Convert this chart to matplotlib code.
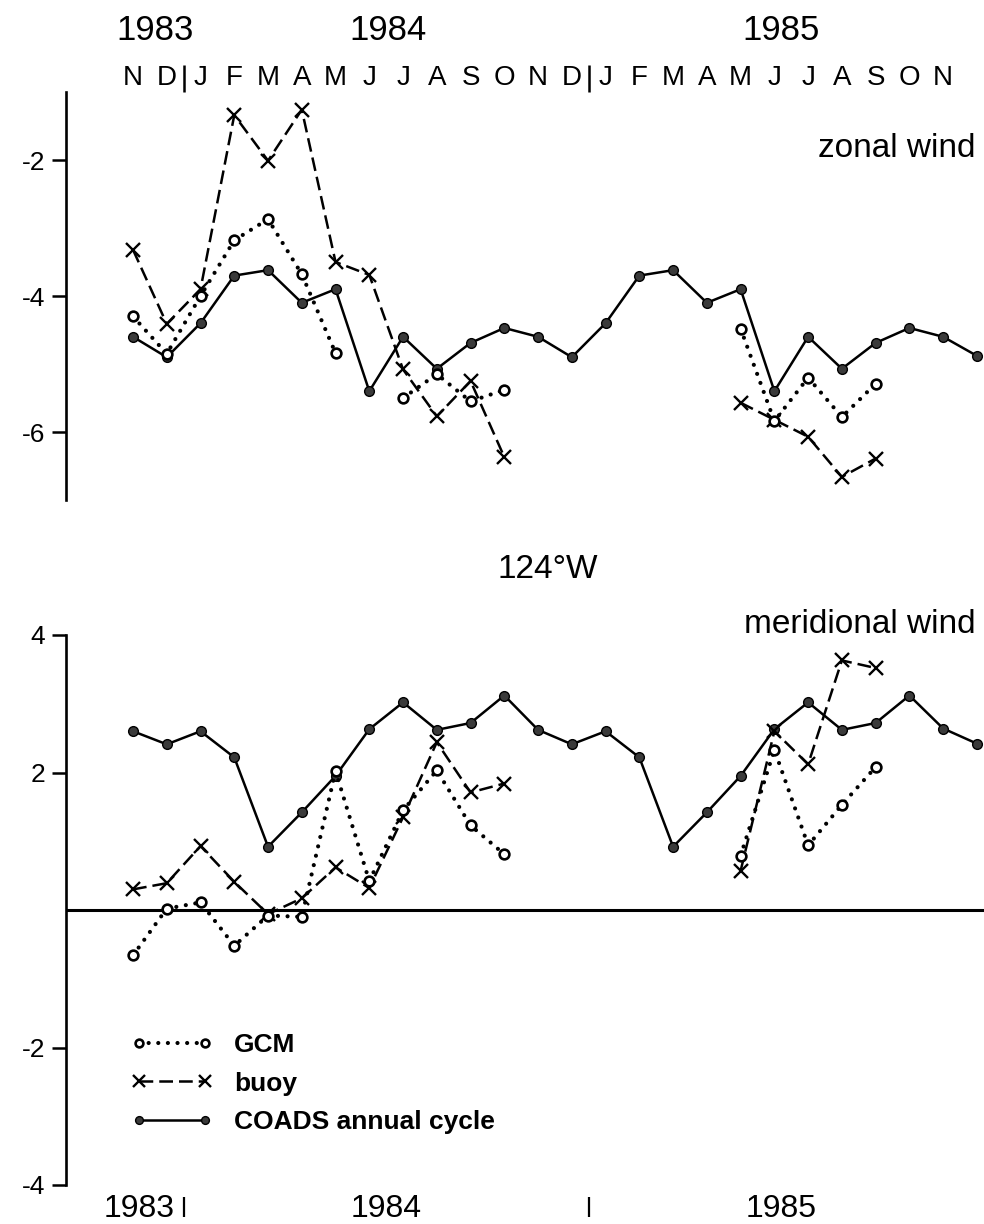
import numpy as np
import matplotlib
matplotlib.use("Agg")
import matplotlib.pyplot as plt
import matplotlib.transforms as mtransforms

plt.rcParams['font.family'] = ['Liberation Sans', 'DejaVu Sans']

nan = np.nan

# month index 0 = Nov 1983 ... 25 = Dec 1985
month_letters = ['N', 'D', 'J', 'F', 'M', 'A', 'M', 'J', 'J', 'A', 'S', 'O',
                 'N', 'D', 'J', 'F', 'M', 'A', 'M', 'J', 'J', 'A', 'S', 'O', 'N']
top_years = ['1983', '1984', '1985']
top_year_pos = [0.65, 7.55, 19.2]
bottom_year_pos = [0.18, 7.5, 19.2]
year_breaks = [1.5, 13.5]

# zonal wind (m/s)
zonal_coads = [-4.60, -4.90, -4.40, -3.70, -3.62, -4.10, -3.90, -5.40, -4.60,
               -5.07, -4.69, -4.47, -4.60, -4.90, -4.40, -3.70, -3.62, -4.10,
               -3.90, -5.40, -4.60, -5.07, -4.69, -4.47, -4.60, -4.88]
zonal_buoy = [-3.32, -4.41, -3.90, -1.34, -2.01, -1.26, -3.50, -3.69, -5.08,
              -5.77, -5.25, -6.37, nan, nan, nan, nan, nan, nan,
              -5.57, -5.82, -6.07, -6.66, -6.39, nan, nan, nan]
zonal_gcm = [-4.30, -4.85, -4.00, -3.18, -2.87, -3.68, -4.84, nan, -5.50,
             -5.15, -5.55, -5.38, nan, nan, nan, nan, nan, nan,
             -4.48, -5.84, -5.20, -5.78, -5.29, nan, nan, nan]

# meridional wind (m/s)
merid_coads = [2.60, 2.41, 2.60, 2.22, 0.92, 1.42, 1.95, 2.63, 3.02, 2.62,
               2.72, 3.12, 2.62, 2.41, 2.60, 2.22, 0.92, 1.42, 1.95, 2.63,
               3.02, 2.62, 2.72, 3.12, 2.64, 2.42]
merid_buoy = [0.30, 0.39, 0.93, 0.41, -0.06, 0.17, 0.62, 0.32, 1.35, 2.44,
              1.71, 1.84, nan, nan, nan, nan, nan, nan,
              0.57, 2.60, 2.12, 3.63, 3.52, nan, nan, nan]
merid_gcm = [-0.66, 0.02, 0.11, -0.52, -0.08, -0.10, 2.02, 0.42, 1.45, 2.03,
             1.23, 0.81, nan, nan, nan, nan, nan, nan,
             0.79, 2.33, 0.94, 1.53, 2.08, nan, nan, nan]

x = np.arange(len(zonal_coads))

gcm_style = dict(color='black', lw=3.0, linestyle=(0, (0.01, 2.3)),
                 dash_capstyle='round', marker='o', ms=7, mfc='white',
                 mec='black', mew=1.9)
buoy_style = dict(color='black', lw=1.8, linestyle=(0, (5.5, 2.4)),
                  marker='x', ms=10, mew=1.7)
coads_style = dict(color='black', lw=1.8, linestyle='-', marker='o', ms=7,
                   mfc='#3a3a3a', mec='black', mew=1.0)

fig = plt.figure(figsize=(9.84, 12.24), dpi=100)
ax1 = fig.add_axes([66 / 984, 1 - 500 / 1224, 918 / 984, 408 / 1224])
ax2 = fig.add_axes([66 / 984, 1 - 1185 / 1224, 918 / 984, 550 / 1224])

for ax in (ax1, ax2):
    for s in ('top', 'right', 'bottom'):
        ax.spines[s].set_visible(False)
    ax.spines['left'].set_linewidth(1.9)
    ax.set_xticks([])
    ax.tick_params(axis='y', direction='out', length=10, width=1.8, pad=5,
                   labelsize=19)
    ax.set_xlim(-1.985, 25.21)

# top panel: zonal wind
ax1.plot(x, zonal_coads, **coads_style, zorder=3)
ax1.plot(x, zonal_buoy, **buoy_style, zorder=4)
ax1.plot(x, zonal_gcm, **gcm_style, zorder=5)
ax1.set_ylim(-7, -1)
ax1.set_yticks([-2, -4, -6])
ax1.set_yticklabels(['-2', '-4', '-6'])

t1 = mtransforms.blended_transform_factory(ax1.transData, ax1.transAxes)
ax1.text(24.96, 0.841, 'zonal wind', transform=t1, ha='right',
         va='baseline', fontsize=24)
for i, m in enumerate(month_letters):
    ax1.text(i, 1.017, m, transform=t1, ha='center', va='baseline',
             fontsize=20, clip_on=False)
for yr, p in zip(top_years, top_year_pos):
    ax1.text(p, 1.127, yr, transform=t1, ha='center', va='baseline',
             fontsize=25, clip_on=False)
ax1.vlines(year_breaks, 1.0, 1.066, transform=t1, colors='black', lw=1.8,
           clip_on=False)

# bottom panel: meridional wind
ax2.axhline(0, color='black', lw=2.2, zorder=1)
l_gcm, = ax2.plot(x, merid_gcm, **gcm_style, zorder=5, label='GCM')
l_buoy, = ax2.plot(x, merid_buoy, **buoy_style, zorder=4, label='buoy')
l_coads, = ax2.plot(x, merid_coads, **coads_style, zorder=3,
                    label='COADS annual cycle')
ax2.set_ylim(-4, 4)
ax2.set_yticks([4, 2, -2, -4])
ax2.set_yticklabels(['4', '2', '-2', '-4'])
t2 = mtransforms.blended_transform_factory(ax2.transData, ax2.transAxes)
ax2.text(24.96, 1.0036, 'meridional wind', transform=t2, ha='right',
         va='baseline', fontsize=24)
for yr, p in zip(top_years, bottom_year_pos):
    ax2.text(p, -0.058, yr, transform=t2, ha='center', va='baseline',
             fontsize=23, clip_on=False)
ax2.vlines(year_breaks, -0.058, -0.022, transform=t2, colors='black', lw=1.6,
           clip_on=False)

leg = ax2.legend(handles=[l_gcm, l_buoy, l_coads], loc='upper left',
                 bbox_to_anchor=(0.071, 0.276), frameon=False, numpoints=2,
                 handlelength=3.1, handletextpad=0.8, labelspacing=0.55,
                 borderpad=0, borderaxespad=0, markerscale=0.8,
                 prop={'weight': 'bold', 'size': 19})

fig.text(548 / 984, 1 - 578 / 1224, '124°W', ha='center', va='baseline',
         fontsize=24)

fig.savefig('out.png', dpi=100)
